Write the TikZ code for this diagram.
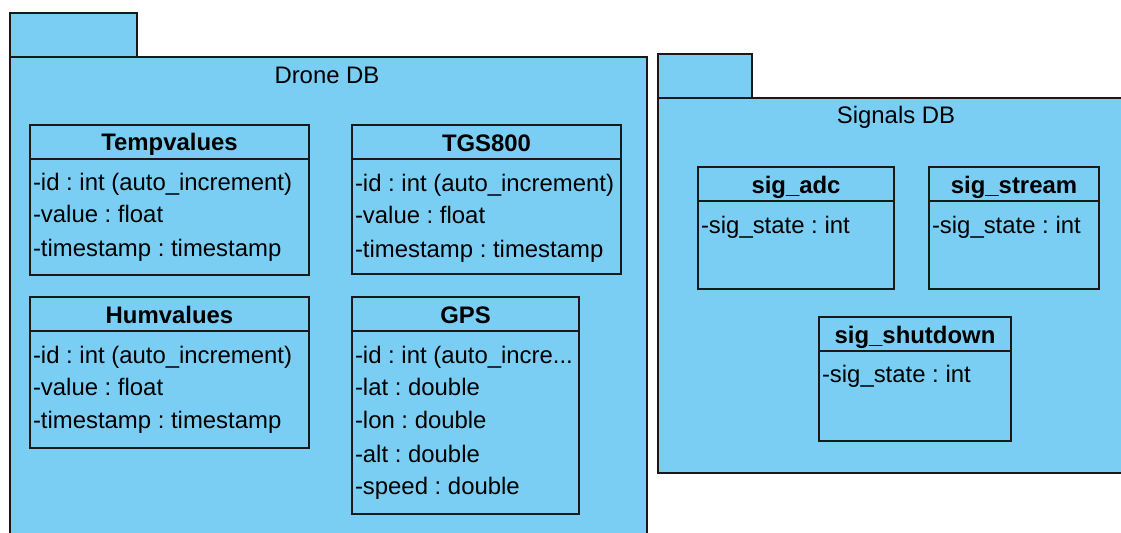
\documentclass[tikz,border=0pt]{standalone}
\usepackage{fontspec}
\setmainfont{Liberation Sans}
\usetikzlibrary{fit,calc}
\definecolor{pkgblue}{RGB}{122,206,244}
\definecolor{edgeline}{RGB}{25,25,25}
\frenchspacing
\begin{document}
\begin{tikzpicture}[x=0.5pt,y=-0.5pt,
  every node/.style={font=\fontsize{11.95}{14}\selectfont, inner sep=0pt, outer sep=0pt},
  boxed/.style={draw=edgeline, fill=pkgblue, line width=1.2pt, rectangle, inner sep=0pt},
  divider/.style={draw=edgeline, line width=1.2pt},
  clstitle/.style={anchor=base, font=\fontsize{11.95}{14}\selectfont\bfseries},
  attr/.style={anchor=base west},
  pkglabel/.style={anchor=base},
]
\useasboundingbox (0,0) rectangle (1121,532);
\clip (0,0) rectangle (1121,532);

% ---------- Drone DB package ----------
\node[boxed, fit={(10,13) (137,57)}] (droneTab) {};
\node[boxed, fit={(10,57) (647,600)}] (droneBody) {};
\node[pkglabel] (droneLabel) at (327,83) {Drone DB};

% Tempvalues
\node[boxed, fit={(30,125) (309,275)}] (temp) {};
\draw[divider] ($(temp.north west)+(0,34)$) -- ($(temp.north east)+(0,34)$);
\node[clstitle] (tempT) at (169.5,150) {Tempvalues};
\node[attr] (tempA1) at (33,190) {-id : int (auto\_increment)};
\node[attr] (tempA2) at (33,222) {-value : float};
\node[attr] (tempA3) at (33,256) {-timestamp : timestamp};

% TGS800
\node[boxed, fit={(352,125) (621,274)}] (tgs) {};
\draw[divider] ($(tgs.north west)+(0,34)$) -- ($(tgs.north east)+(0,34)$);
\node[clstitle] (tgsT) at (486.5,151) {TGS800};
\node[attr] (tgsA1) at (355,191) {-id : int (auto\_increment)};
\node[attr] (tgsA2) at (355,223) {-value : float};
\node[attr] (tgsA3) at (355,257) {-timestamp : timestamp};

% Humvalues
\node[boxed, fit={(30,297) (309,448)}] (hum) {};
\draw[divider] ($(hum.north west)+(0,34)$) -- ($(hum.north east)+(0,34)$);
\node[clstitle] (humT) at (169.5,323) {Humvalues};
\node[attr] (humA1) at (33,363) {-id : int (auto\_increment)};
\node[attr] (humA2) at (33,395) {-value : float};
\node[attr] (humA3) at (33,428) {-timestamp : timestamp};

% GPS
\node[boxed, fit={(352,297) (579,514)}] (gps) {};
\draw[divider] ($(gps.north west)+(0,34)$) -- ($(gps.north east)+(0,34)$);
\node[clstitle] (gpsT) at (465.5,323) {GPS};
\node[attr] (gpsA1) at (355,363) {-id : int (auto\_incre...};
\node[attr] (gpsA2) at (355,395) {-lat : double};
\node[attr] (gpsA3) at (355,428) {-lon : double};
\node[attr] (gpsA4) at (355,462) {-alt : double};
\node[attr] (gpsA5) at (355,494) {-speed : double};

% ---------- Signals DB package ----------
\node[boxed, fit={(658,54) (752,98)}] (sigTab) {};
\node[boxed, fit={(658,98) (1140,473)}] (sigBody) {};
\node[pkglabel] (sigLabel) at (896,123) {Signals DB};

% sig_adc
\node[boxed, fit={(698,167) (894,289)}] (adc) {};
\draw[divider] ($(adc.north west)+(0,34)$) -- ($(adc.north east)+(0,34)$);
\node[clstitle] (adcT) at (796,193) {sig\_adc};
\node[attr] (adcA1) at (701,233) {-sig\_state : int};

% sig_stream
\node[boxed, fit={(929,167) (1099,289)}] (stream) {};
\draw[divider] ($(stream.north west)+(0,34)$) -- ($(stream.north east)+(0,34)$);
\node[clstitle] (streamT) at (1014,193) {sig\_stream};
\node[attr] (streamA1) at (932,233) {-sig\_state : int};

% sig_shutdown
\node[boxed, fit={(819,317) (1011,441)}] (shut) {};
\draw[divider] ($(shut.north west)+(0,34)$) -- ($(shut.north east)+(0,34)$);
\node[clstitle] (shutT) at (915,343) {sig\_shutdown};
\node[attr] (shutA1) at (822,382) {-sig\_state : int};
\end{tikzpicture}
\end{document}
